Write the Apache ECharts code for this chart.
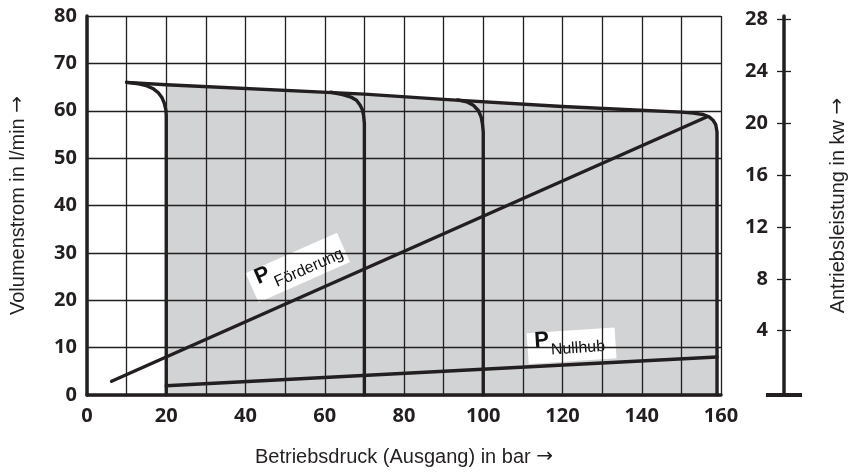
<!DOCTYPE html>
<html>
<head>
<meta charset="utf-8">
<script src="https://cdn.jsdelivr.net/npm/echarts@6/dist/echarts.min.js"></script>
<style>html,body{margin:0;padding:0;background:#fff}#c{width:856px;height:473px}</style>
</head>
<body>
<div id="c"></div>
<script>
// ---- data ----
const xTitle = 'Betriebsdruck (Ausgang) in bar';
const yTitle = 'Volumenstrom in l/min';
const y2Title = 'Antriebsleistung in kw';
const powerTicks = [4, 8, 12, 16, 20, 24, 28];
// flow (l/min) vs pressure (bar)
const envelope = [[10,66.0],[20,65.5],[70,63.5],[90,62.4],[120,60.9],[150,59.7],[153,59.5],[155.5,59.2],[157,58.7],[158,58.0],[158.7,57.0],[159,55.5],[159,0]];
const knee20 = [[10,66.0],[13,65.7],[15,65.3],[16.6,64.7],[17.9,63.9],[18.9,62.8],[19.5,61.6],[19.9,60.2],[20,59.0],[20,0]];
const knee70 = [[61.6,63.9],[64.5,63.4],[66.6,62.9],[68,62.2],[68.9,61.2],[69.5,60.2],[69.8,59.0],[70,57.3],[70,0]];
const knee100 = [[93.5,62.3],[95.8,61.9],[97.6,61.1],[98.8,60.0],[99.5,58.6],[99.8,57.2],[100,55.5],[100,0]];
// power (kW) vs pressure (bar)
const pFoerderung = [[6.2,0.1],[156.5,20.5]];
const pNullhub = [[20,-0.25],[159,1.97]];
// label anchor positions (bar, l/min)
const labelFoerderungAt = [53.2, 26.9];
const labelNullhubAt = [122.3, 10.4];

const INK = '#231f20';
const fillData = [[20,0]].concat(envelope.filter(p => p[0] >= 20));
const tickFont = {fontFamily:'Noto Sans', fontWeight:'bold', fontSize:20, color:INK};
const titleFont = {fontFamily:'Liberation Sans', fontSize:20, color:INK,
  rich:{t:{fontFamily:'Liberation Sans', fontSize:20, color:INK}, a:{fontFamily:'DejaVu Sans', fontSize:20, color:INK}}};
const withArrow = s => '{t|' + s + ' }{a|\u2192}';

const chart = echarts.init(document.getElementById('c'));
const curve = (data, z) => ({type:'line', data, symbol:'none', z:z||3, lineStyle:{color:INK, width:3.4, cap:'round', join:'round'}});
chart.setOption({
  animation:false,
  grid:{left:83, right:124, top:16, bottom:78},
  xAxis:{type:'value', min:0, max:160, interval:10, z:1,
    axisLine:{lineStyle:{color:INK, width:3.5}},
    axisTick:{show:false},
    axisLabel:Object.assign({margin:11, formatter:v => (v % 20 === 0 ? String(v) : '')}, tickFont),
    splitLine:{lineStyle:{color:INK, width:1.3}},
    name:withArrow(xTitle), nameLocation:'middle', nameGap:52, nameTextStyle:titleFont},
  yAxis:[
    {type:'value', min:0, max:80, interval:10, z:1,
      axisLine:{show:true, lineStyle:{color:INK, width:3.5}},
      axisTick:{show:false},
      axisLabel:Object.assign({margin:10}, tickFont),
      splitLine:{lineStyle:{color:INK, width:1.3}},
      name:withArrow(yTitle), nameLocation:'middle', nameGap:59, nameRotate:90, nameTextStyle:titleFont},
    {type:'value', position:'right', offset:63, min:-0.96, max:28.27, z:1,
      axisLine:{show:true, lineStyle:{color:INK, width:3.5}, symbol:['rect','none'], symbolSize:[36,4]},
      axisTick:{show:true, inside:true, length:7, customValues:powerTicks, lineStyle:{color:INK, width:1.3}},
      axisLabel:Object.assign({inside:true, margin:16, customValues:powerTicks}, tickFont),
      splitLine:{show:false},
      name:withArrow(y2Title), nameLocation:'middle', nameGap:44, nameRotate:90, nameTextStyle:titleFont},
    {type:'value', position:'right', offset:63, min:-0.96, max:28.27, z:1,
      axisLine:{show:false},
      axisTick:{show:true, inside:false, length:7, customValues:powerTicks, lineStyle:{color:INK, width:1.3}},
      axisLabel:{show:false}, splitLine:{show:false}}
  ],
  series:[
    {type:'line', data:fillData, symbol:'none', z:0, lineStyle:{width:0}, areaStyle:{color:'#d1d3d4', opacity:1}},
    curve(envelope), curve(knee20), curve(knee70), curve(knee100),
    Object.assign(curve(pFoerderung), {yAxisIndex:1}),
    Object.assign(curve(pNullhub), {yAxisIndex:1})
  ]
});

function lineAngle(d){
  const a = chart.convertToPixel({xAxisIndex:0, yAxisIndex:1}, d[0]);
  const b = chart.convertToPixel({xAxisIndex:0, yAxisIndex:1}, d[1]);
  return Math.atan2(a[1]-b[1], b[0]-a[0]);
}
function tag(at, sub, w, h, angle, subGap, subY){
  const p = chart.convertToPixel({xAxisIndex:0, yAxisIndex:0}, at);
  return {type:'group', x:p[0], y:p[1], rotation:angle, z:20, children:[
    {type:'rect', shape:{x:-w/2, y:-h/2, width:w, height:h}, style:{fill:'#fff'}},
    {type:'text', style:{text:'P', x:-w/2+7, y:4, font:'bold 22px "Liberation Sans"', fill:'#111', textAlign:'left', textVerticalAlign:'bottom'}},
    {type:'text', style:{text:sub, x:-w/2+7+subGap, y:subY, font:'16px "Liberation Sans"', fill:'#111', textAlign:'left', textVerticalAlign:'bottom'}}
  ]};
}
chart.setOption({graphic:[
  tag(labelFoerderungAt, 'F\u00f6rderung', 100, 32, lineAngle(pFoerderung), 16, 13),
  tag(labelNullhubAt, 'Nullhub', 88, 31, lineAngle(pNullhub) + 0.013, 16, 11)
]});
</script>
</body>
</html>
